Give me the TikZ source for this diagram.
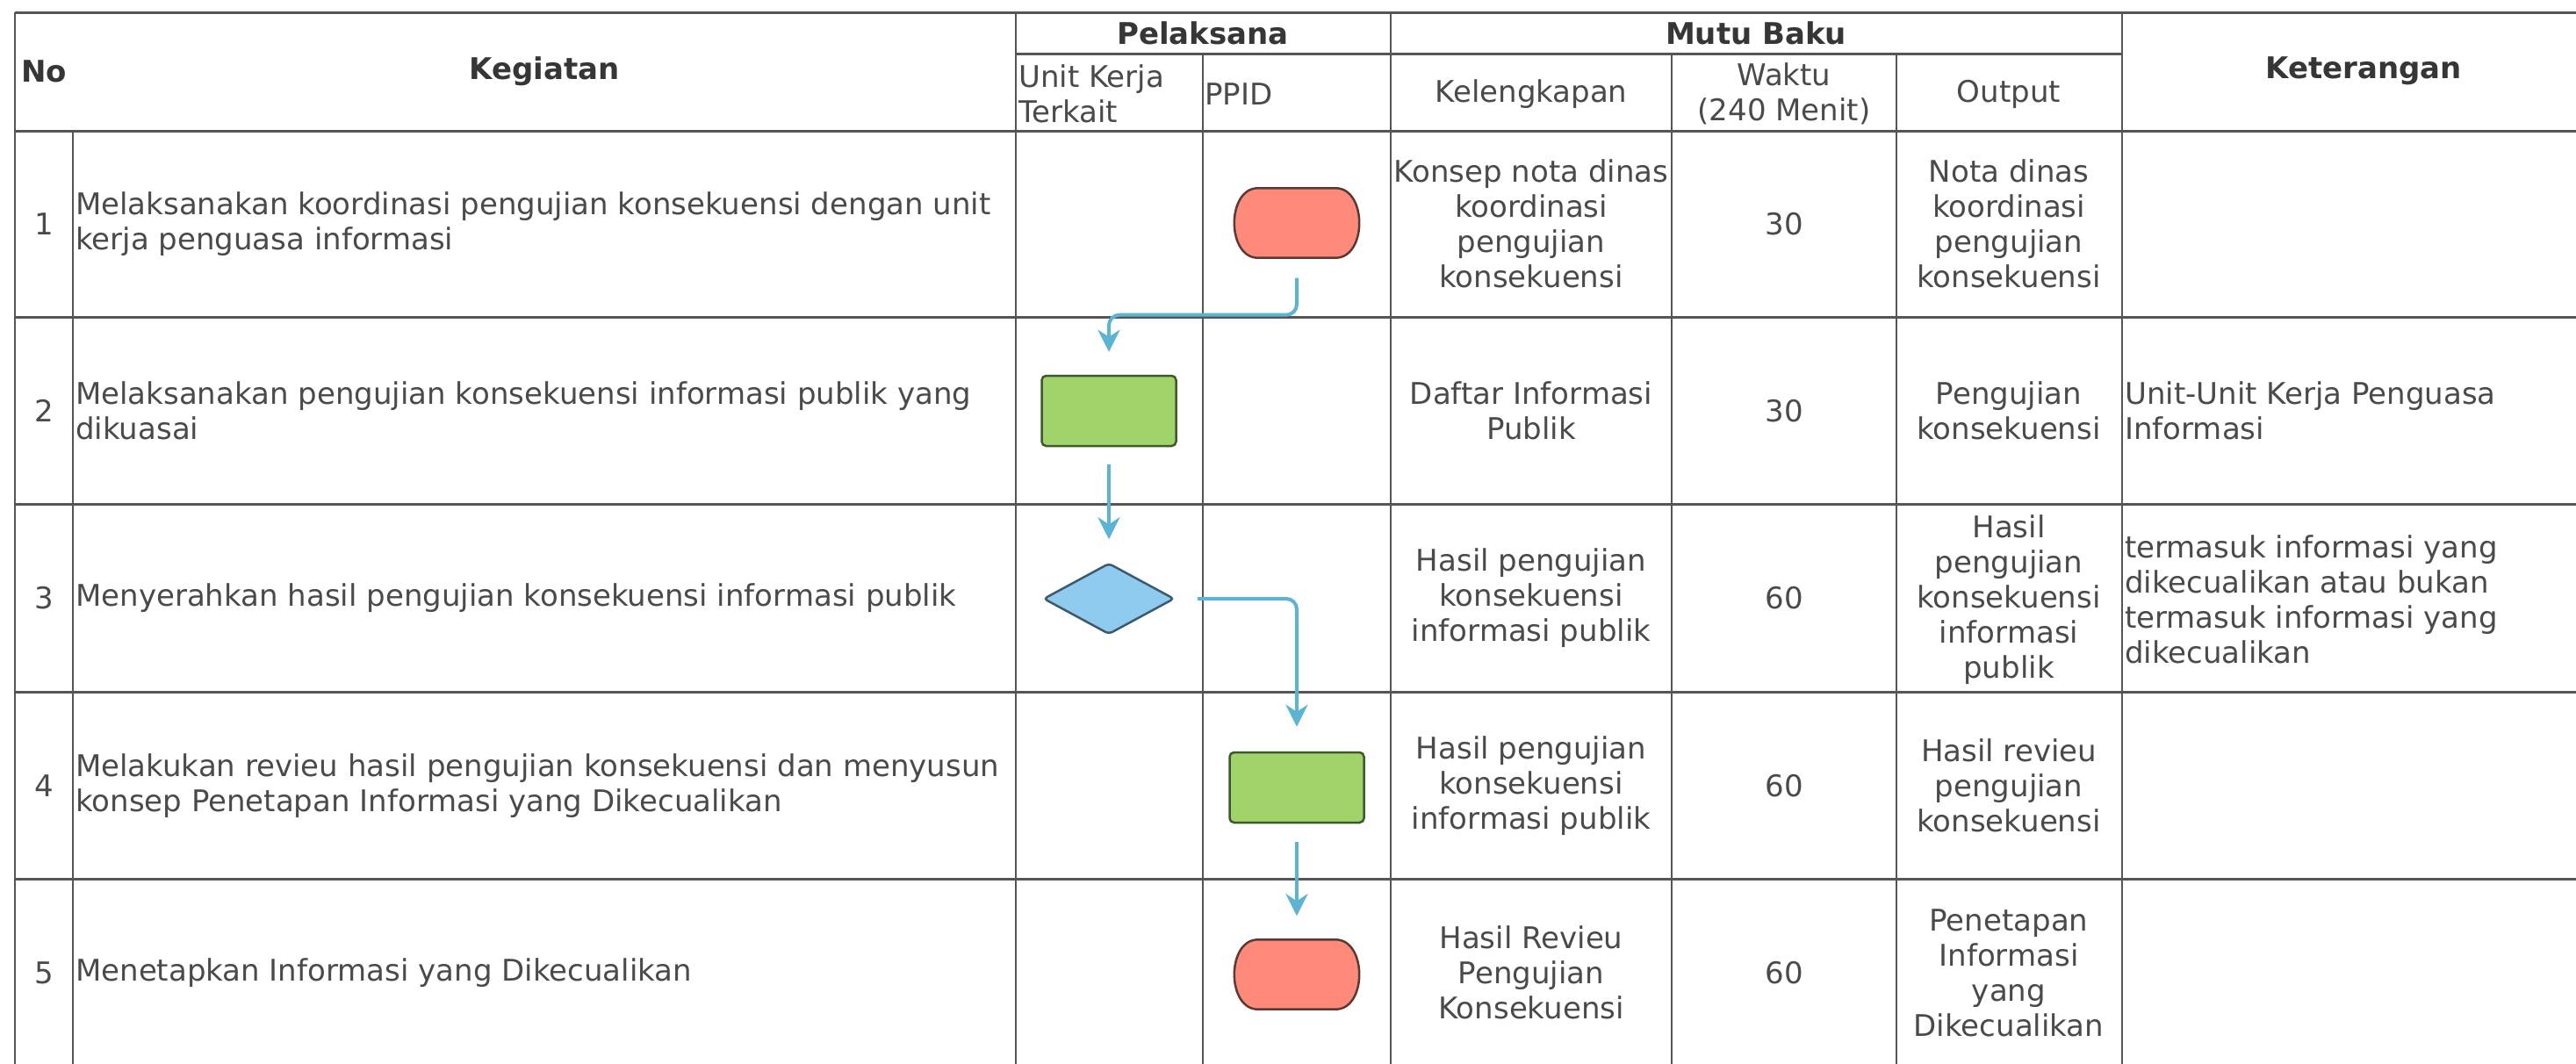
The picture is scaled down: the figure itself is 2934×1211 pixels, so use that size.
\documentclass[tikz,border=0pt]{standalone}
\usepackage{fontspec}
\setmainfont{DejaVu Sans}
\usetikzlibrary{shapes.geometric,arrows.meta}
\definecolor{txt}{HTML}{4A4A4A}
\definecolor{hdr}{HTML}{363636}
\definecolor{gridc}{HTML}{555555}
\definecolor{flowc}{HTML}{5BB4D3}
\definecolor{termf}{HTML}{FF8A7A}
\definecolor{termb}{HTML}{5A3A35}
\definecolor{procf}{HTML}{A0D46A}
\definecolor{procb}{HTML}{3E5A2C}
\definecolor{decf}{HTML}{8FCBEE}
\definecolor{decb}{HTML}{3C5A6E}
\newcommand{\drawterminal}[1]{%
  \draw[termline] ([xshift=27pt]#1.north west) -- ([xshift=-27pt]#1.north east)
    .. controls ([xshift=9pt]#1.north east) and ([xshift=9pt]#1.south east) .. ([xshift=-27pt]#1.south east)
    -- ([xshift=27pt]#1.south west)
    .. controls ([xshift=-9pt]#1.south west) and ([xshift=-9pt]#1.north west) .. cycle;}
\begin{document}
\begin{tikzpicture}[x=1pt,y=-1pt,
  cell/.style={font=\fontsize{34}{40}\selectfont, text=txt, inner sep=0pt, align=center},
  lcell/.style={cell, align=left, anchor=west},
  head/.style={font=\fontsize{34}{40}\selectfont\bfseries, text=hdr, inner sep=0pt, align=center},
  hline/.style={draw=gridc, line width=3pt},
  vline/.style={draw=gridc, line width=2pt},
  term/.style={rectangle, minimum width=142pt, minimum height=79pt, inner sep=0pt},
  termline/.style={draw=termb, fill=termf, line width=2.5pt},
  proc/.style={rectangle, rounded corners=5pt, draw=procb, fill=procf, line width=2.5pt, minimum width=153pt, minimum height=80pt, inner sep=0pt},
  dec/.style={diamond, rounded corners=4pt, draw=decb, fill=decf, line width=2.5pt, minimum width=149pt, minimum height=81pt, inner sep=0pt},
  flow/.style={draw=flowc, line width=4pt, rounded corners=12pt, -{Stealth[length=25pt,width=25pt,inset=8pt]}}
]
\clip (0,0) rectangle (2934,1211);
\fill[white] (0,0) rectangle (2934,1211);

% grid: horizontal lines
\draw[hline] (17,14) -- (2990,14);
\draw[hline] (1157,61) -- (2417,61);
\draw[hline] (17,149) -- (2990,149);
\foreach \yy in {361,574,788,1001}{\draw[hline] (17,\yy) -- (2990,\yy);}
% vertical lines
\draw[vline] (17,14) -- (17,1230);
\draw[vline] (83,149) -- (83,1230);
\draw[vline] (1157,14) -- (1157,1230);
\draw[vline] (1370,61) -- (1370,1230);
\draw[vline] (1584,14) -- (1584,1230);
\draw[vline] (1904,61) -- (1904,1230);
\draw[vline] (2160,61) -- (2160,1230);
\draw[vline] (2417,14) -- (2417,1230);

% headers
\node[head, anchor=west] (hNo) at (24,81) {No};
\node[head] (hKeg) at (620,81) {Kegiatan};
\node[head] (hPel) at (1370,38) {Pelaksana};
\node[head] (hMutu) at (2000,38) {Mutu Baku};
\node[head] (hKet) at (2692,81) {Keterangan};
\node[lcell] (hUnit) at (1160,107) {Unit Kerja\\Terkait};
\node[lcell] (hPPID) at (1372,107) {PPID};
\node[cell] (hKel) at (1744,107) {Kelengkapan};
\node[cell] (hWak) at (2032,107) {Waktu\\(240 Menit)};
\node[cell] (hOut) at (2288,107) {Output};

% row 1
\node[cell] (n1) at (50,255) {1};
\node[lcell] (k1) at (86,255) {Melaksanakan koordinasi pengujian konsekuensi dengan unit\\kerja penguasa informasi};
\node[cell] (l1) at (1744,255) {Konsep nota dinas\\koordinasi\\pengujian\\konsekuensi};
\node[cell] (w1) at (2032,255) {30};
\node[cell] (o1) at (2288,255) {Nota dinas\\koordinasi\\pengujian\\konsekuensi};

% row 2
\node[cell] (n2) at (50,468) {2};
\node[lcell] (k2) at (86,468) {Melaksanakan pengujian konsekuensi informasi publik yang\\dikuasai};
\node[cell] (l2) at (1744,468) {Daftar Informasi\\Publik};
\node[cell] (w2) at (2032,468) {30};
\node[cell] (o2) at (2288,468) {Pengujian\\konsekuensi};
\node[lcell] (e2) at (2420,468) {Unit-Unit Kerja Penguasa\\Informasi};

% row 3
\node[cell] (n3) at (50,681) {3};
\node[lcell] (k3) at (86,681) {Menyerahkan hasil pengujian konsekuensi informasi publik};
\node[cell] (l3) at (1744,681) {Hasil pengujian\\konsekuensi\\informasi publik};
\node[cell] (w3) at (2032,681) {60};
\node[cell] (o3) at (2288,683) {Hasil\\pengujian\\konsekuensi\\informasi\\publik};
\node[lcell] (e3) at (2420,683) {termasuk informasi yang\\dikecualikan atau bukan\\termasuk informasi yang\\dikecualikan};

% row 4
\node[cell] (n4) at (50,895) {4};
\node[lcell] (k4) at (86,895) {Melakukan revieu hasil pengujian konsekuensi dan menyusun\\konsep Penetapan Informasi yang Dikecualikan};
\node[cell] (l4) at (1744,895) {Hasil pengujian\\konsekuensi\\informasi publik};
\node[cell] (w4) at (2032,895) {60};
\node[cell] (o4) at (2288,895) {Hasil revieu\\pengujian\\konsekuensi};

% row 5
\node[cell] (n5) at (50,1108) {5};
\node[lcell] (k5) at (86,1108) {Menetapkan Informasi yang Dikecualikan};
\node[cell] (l5) at (1744,1108) {Hasil Revieu\\Pengujian\\Konsekuensi};
\node[cell] (w5) at (2032,1108) {60};
\node[cell] (o5) at (2288,1108) {Penetapan\\Informasi\\yang\\Dikecualikan};

% flow shapes
\node[term] (t1) at (1477,254) {};
\drawterminal{t1}
\node[proc] (p2) at (1263,468) {};
\node[dec]  (d3) at (1263,682) {};
\node[proc] (p4) at (1477,897) {};
\node[term] (t5) at (1477,1110) {};
\drawterminal{t5}

% connectors
\draw[flow] ([yshift=-23pt]t1.south) -- ++(0,42) -| ([yshift=26pt]p2.north);
\draw[flow] ([yshift=-20pt]p2.south) -- ([yshift=26pt]d3.north);
\draw[flow] ([xshift=25pt]d3.east) -| ([yshift=28pt]p4.north);
\draw[flow] ([yshift=-21pt]p4.south) -- ([yshift=27pt]t5.north);
\end{tikzpicture}
\end{document}
